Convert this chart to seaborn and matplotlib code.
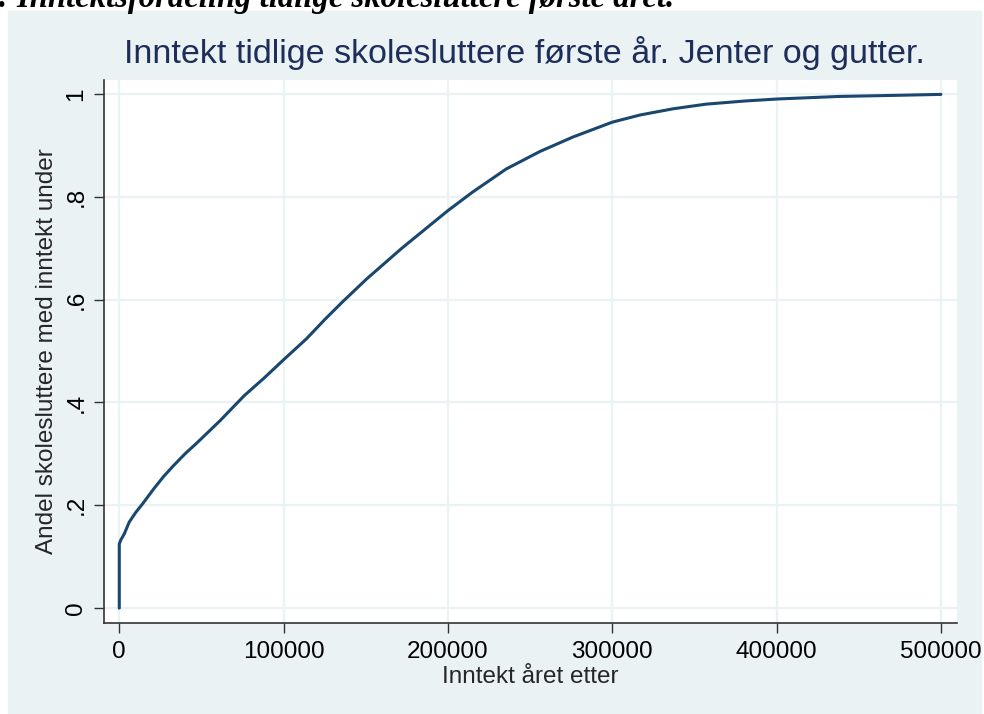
import matplotlib
matplotlib.use("Agg")
import matplotlib.pyplot as plt
from matplotlib.patches import Rectangle
from matplotlib.ticker import FixedLocator, FixedFormatter
import seaborn as sns

# cumulative share of early school leavers by income the year after
income = [0, 0, 1000, 3000, 6000, 10000, 14000, 21000, 27000, 33000, 40000,
          47500, 61500, 76000, 88000, 100000, 114000, 125000, 136000, 150500,
          172000, 195000, 200000, 215000, 235500, 256000, 276000, 300000,
          317000, 337000, 357000, 380000, 400000, 438000, 470000, 500000]
share = [0, 0.1245, 0.133, 0.144, 0.167, 0.186, 0.202, 0.232, 0.256, 0.277,
         0.300, 0.322, 0.365, 0.413, 0.447, 0.483, 0.524, 0.561, 0.596,
         0.640, 0.700, 0.760, 0.773, 0.809, 0.854, 0.888, 0.916, 0.945,
         0.959, 0.971, 0.980, 0.986, 0.990, 0.995, 0.997, 0.999]

x_ticks = [0, 100000, 200000, 300000, 400000, 500000]
x_labels = ['0', '100000', '200000', '300000', '400000', '500000']
y_ticks = [0, 0.2, 0.4, 0.6, 0.8, 1.0]
y_labels = ['0', '.2', '.4', '.6', '.8', '1']

sns.set_style('white')
plt.rcParams['font.family'] = ['Liberation Sans', 'DejaVu Sans']

bg = '#eaf2f3'
navy = '#1a476f'

fig = plt.figure(figsize=(9.84, 7.14), dpi=100, facecolor='white')
fig.patches.append(Rectangle((8 / 984, 0), 973 / 984, 703 / 714,
                             transform=fig.transFigure, color=bg, zorder=-1))

ax = fig.add_axes([104 / 984, 91 / 714, 853 / 984, 543 / 714])
ax.set_facecolor('white')

sns.lineplot(x=income, y=share, estimator=None, sort=False, color=navy,
             linewidth=2.2, ax=ax)

ax.set_xlim(-9300, 509800)
ax.set_ylim(-0.029, 1.027)
ax.xaxis.set_major_locator(FixedLocator(x_ticks))
ax.xaxis.set_major_formatter(FixedFormatter(x_labels))
ax.yaxis.set_major_locator(FixedLocator(y_ticks))
ax.yaxis.set_major_formatter(FixedFormatter(y_labels))

ax.grid(True, color=bg, linewidth=1.6)
ax.set_axisbelow(True)
for side in ['top', 'right']:
    ax.spines[side].set_visible(False)
for side in ['left', 'bottom']:
    ax.spines[side].set_color('#333333')
    ax.spines[side].set_linewidth(1.2)

ax.tick_params(axis='both', direction='out', length=7, width=1, color='#333333',
               labelsize=17.5, labelcolor='black', bottom=True, left=True)
ax.tick_params(axis='x', pad=6)
ax.tick_params(axis='y', pad=5, labelrotation=90)
for lbl in ax.get_yticklabels():
    lbl.set_va('center')

ax.set_xlabel('Inntekt året etter', fontsize=17.5, labelpad=2)
ax.set_ylabel('Andel skolesluttere med inntekt under', fontsize=17.5, labelpad=5)
ax.set_title('Inntekt tidlige skolesluttere første år. Jenter og gutter.',
             fontsize=24.5, color='#1e2d5a', pad=12, x=0.493)

# heading above the figure, cut at the top edge as in the source
fig.text(-0.002, 1 - 7 / 714, ': Inntektsfordeling tidlige skolesluttere første året.',
         family=['Liberation Serif', 'DejaVu Serif'], fontweight='bold', style='italic',
         fontsize=23.5, va='baseline', ha='left', color='black')

fig.savefig('out.png', dpi=100, facecolor='white')
